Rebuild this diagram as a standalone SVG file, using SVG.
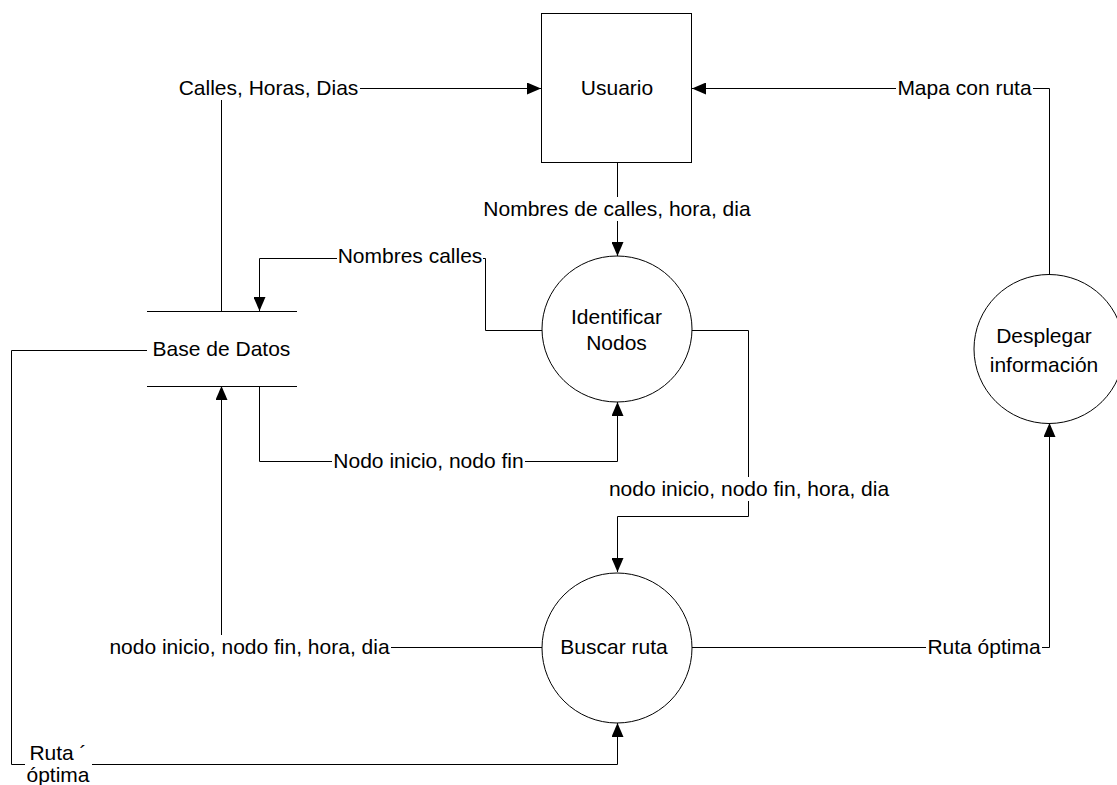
<svg xmlns="http://www.w3.org/2000/svg" width="1117" height="785" viewBox="0 0 1117 785">
<style>
  .ln { fill: none; stroke: #000; stroke-width: 1; }
  .shape { fill: #fff; stroke: #000; stroke-width: 1; }
  .t { font-family: "Liberation Sans", Arial, sans-serif; font-size: 21px; fill: #000; text-anchor: middle; }
  .bg { fill: #fff; stroke: none; }
</style>
<defs>
  <marker id="arr" markerUnits="userSpaceOnUse" viewBox="0 0 14 12" refX="14" refY="6" markerWidth="14" markerHeight="12" orient="auto">
    <path d="M0,0 L14,6 L0,12 Z" fill="#000"/>
  </marker>
</defs>
<rect width="1117" height="785" fill="#fff"/>

<g id="connectors">
  <path class="ln" d="M221.5,311 V88.5 H541" marker-end="url(#arr)"/>
  <path class="ln" d="M1049.5,274 V88.5 H692" marker-end="url(#arr)"/>
  <path class="ln" d="M617.5,162 V256" marker-end="url(#arr)"/>
  <path class="ln" d="M542,330.5 H485.5 V258.5 H259.5 V311" marker-end="url(#arr)"/>
  <path class="ln" d="M259.5,386 V461.5 H617.5 V402" marker-end="url(#arr)"/>
  <path class="ln" d="M692,330.5 H748.5 V516.5 H617.5 V572" marker-end="url(#arr)"/>
  <path class="ln" d="M542,647.5 H221.5 V386" marker-end="url(#arr)"/>
  <path class="ln" d="M147,350.5 H11.5 V764.5 H617.5 V723" marker-end="url(#arr)"/>
  <path class="ln" d="M692,647.5 H1049.5 V423" marker-end="url(#arr)"/>
</g>

<g id="labels">
  <rect class="bg" x="177" y="76" width="183" height="24"/>
  <text class="t" x="268.5" y="95">Calles, Horas, Dias</text>
  <rect class="bg" x="896" y="76" width="137" height="24"/>
  <text class="t" x="964.5" y="95">Mapa con ruta</text>
  <rect class="bg" x="482" y="197" width="270" height="24"/>
  <text class="t" x="617" y="216">Nombres de calles, hora, dia</text>
  <rect class="bg" x="337" y="244" width="146" height="24"/>
  <text class="t" x="410" y="263">Nombres calles</text>
  <rect class="bg" x="332" y="449" width="193" height="24"/>
  <text class="t" x="428.5" y="468">Nodo inicio, nodo fin</text>
  <rect class="bg" x="606" y="477" width="286" height="24"/>
  <text class="t" x="749" y="496">nodo inicio, nodo fin, hora, dia</text>
  <rect class="bg" x="108" y="635" width="283" height="24"/>
  <text class="t" x="249.5" y="654">nodo inicio, nodo fin, hora, dia</text>
  <rect class="bg" x="926" y="635" width="116" height="24"/>
  <text class="t" x="984" y="654">Ruta óptima</text>
  <rect class="bg" x="25" y="741" width="67" height="44"/>
  <text class="t" x="58" y="760">Ruta ´</text>
  <text class="t" x="58" y="782">óptima</text>
</g>

<g id="usuario">
  <rect class="shape" x="541.5" y="13.5" width="150" height="149"/>
  <text class="t" x="617" y="95">Usuario</text>
</g>

<g id="base-de-datos">
  <line class="ln" x1="147" y1="311.5" x2="297" y2="311.5"/>
  <line class="ln" x1="147" y1="386.5" x2="297" y2="386.5"/>
  <text class="t" x="221.5" y="356">Base de Datos</text>
</g>

<g id="identificar-nodos">
  <ellipse class="shape" cx="617" cy="329" rx="75" ry="73"/>
  <text class="t" x="616.5" y="324">Identificar</text>
  <text class="t" x="616.5" y="350">Nodos</text>
</g>

<g id="buscar-ruta">
  <ellipse class="shape" cx="617" cy="648" rx="75" ry="75"/>
  <text class="t" x="614" y="654">Buscar ruta</text>
</g>

<g id="desplegar-informacion">
  <ellipse class="shape" cx="1049" cy="349" rx="75" ry="74.5"/>
  <text class="t" x="1044" y="343">Desplegar</text>
  <text class="t" x="1044" y="372">información</text>
</g>
</svg>
